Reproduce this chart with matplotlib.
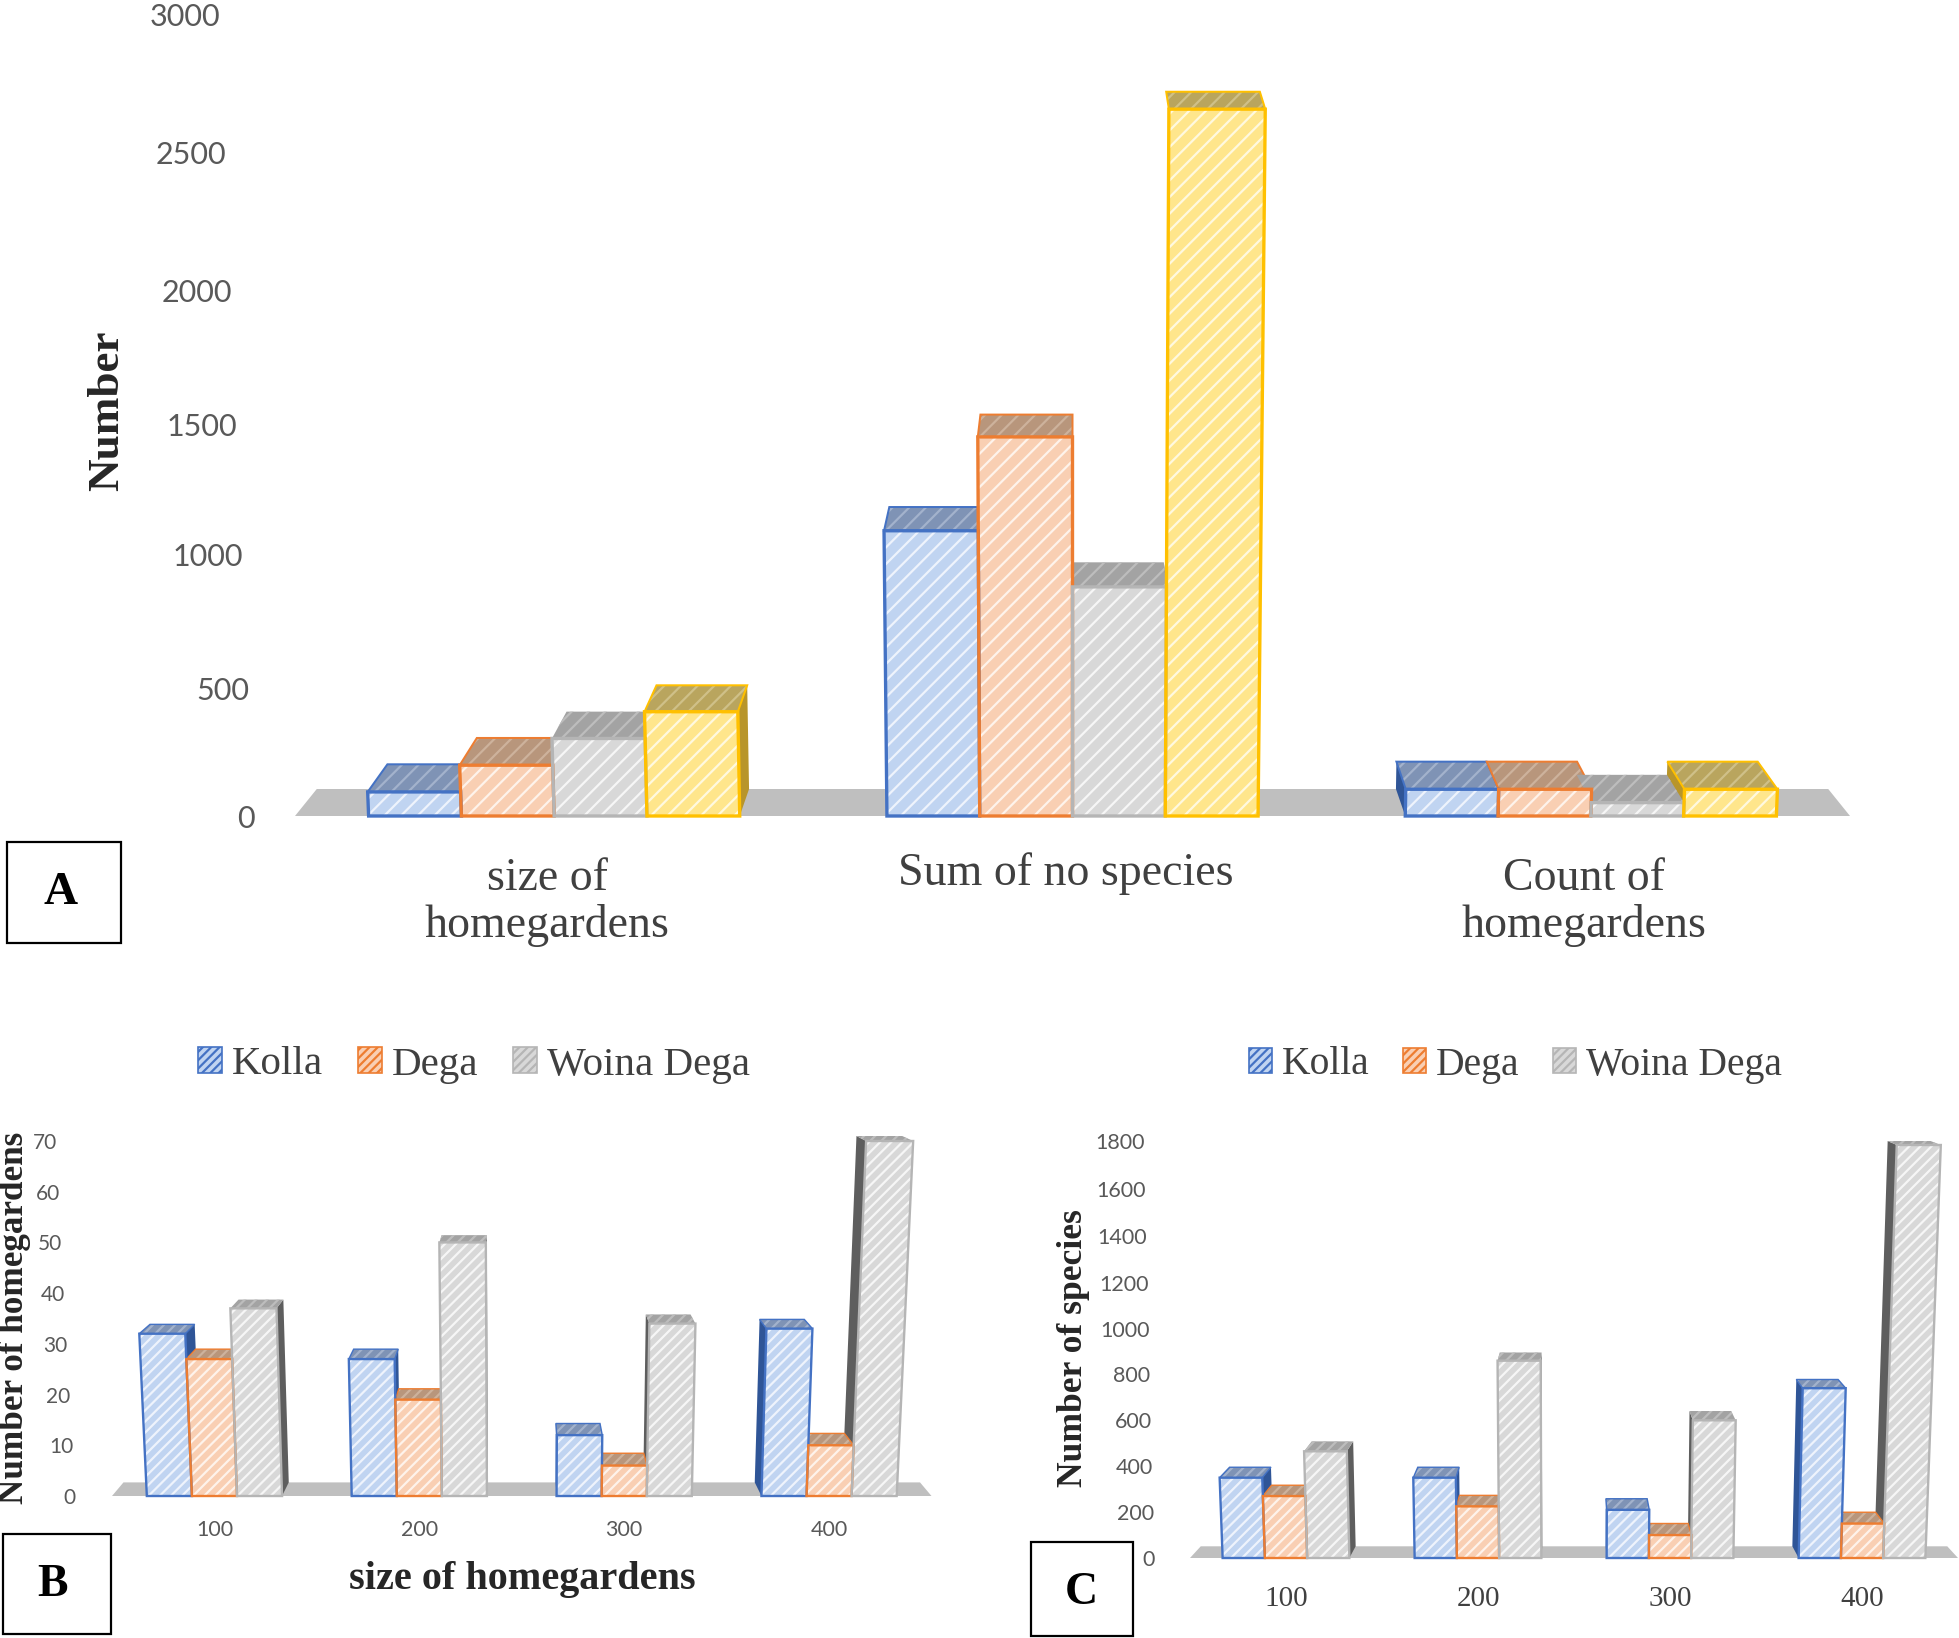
import matplotlib
matplotlib.use("Agg")
import matplotlib.pyplot as plt
from matplotlib.patches import Polygon, Patch, Rectangle
from matplotlib.transforms import ScaledTranslation

W, H = 1959, 1638
SERIF = "Liberation Serif"
NUM = "Lato"
TICK = "#595959"
TEXT = "#404040"

# ---------- data ----------
a_categories = ["size of\nhomegardens", "Sum of no species", "Count of\nhomegardens"]
a_kolla = [90, 1067, 100]
a_dega = [190, 1418, 100]
a_woina = [290, 857, 50]
a_total = [390, 2644, 100]
a_ticks = [0, 500, 1000, 1500, 2000, 2500, 3000]

b_categories = ["100", "200", "300", "400"]
b_kolla = [32, 27, 12, 33]
b_dega = [27, 19, 6, 10]
b_woina = [37, 50, 34, 70]
b_ticks = [0, 10, 20, 30, 40, 50, 60, 70]

c_categories = ["100", "200", "300", "400"]
c_kolla = [350, 350, 210, 740]
c_dega = [270, 225, 100, 150]
c_woina = [465, 860, 600, 1800]
c_ticks = [0, 200, 400, 600, 800, 1000, 1200, 1400, 1600, 1800]

# ---------- styles: front, stripe, outline, top, top stripe, side ----------
STY = {
    "blue":   ("#C0D4F1", "#EEF3FC", "#4472C4", "#7F93B5", "#A3B2CC", "#2F5597"),
    "orange": ("#F9CFB3", "#FEF3EB", "#ED7D31", "#B8967C", "#CDB29C", "#A86A3C"),
    "gray":   ("#D8D8D8", "#F6F6F6", "#B5B5B5", "#A3A3A3", "#BDBDBD", "#5E5E5E"),
    "yellow": ("#FFE68C", "#FFF9DF", "#FFC000", "#B9A55E", "#CFC088", "#B8952A"),
}
plt.rcParams["hatch.linewidth"] = 1.6

fig = plt.figure(figsize=(W / 100, H / 100), dpi=100, facecolor="white")


def make_axes(left, right, top, bottom, ymax):
    ax = fig.add_axes([left / W, 1 - bottom / H, (right - left) / W, (bottom - top) / H])
    ax.set_ylim(0, ymax)
    ax.patch.set_alpha(0)
    for s in ax.spines.values():
        s.set_visible(False)
    ax.tick_params(length=0)
    return ax


def panel(ax, groups, names, width, hatch, dy_low, dy_high, floor_dy, lw, k=0.028):
    n_cat = len(groups[0])
    ax.set_xlim(-0.5, n_cat - 0.5)
    ymax = ax.get_ylim()[1]
    bbox = ax.get_position()
    px_per_val = bbox.height * H / ymax
    xc = (n_cat - 1) / 2
    back = lambda x: x + k * (xc - x)
    lean = lambda x, v: x + 0.044 * (v / ymax) * (x - xc)

    fdy = floor_dy / px_per_val
    ax.add_patch(Polygon([(-0.5, 0), (n_cat - 0.5, 0), (back(n_cat - 0.5), fdy), (back(-0.5), fdy)],
                         fc="#BFBFBF", ec="none", zorder=1, clip_on=False))
    m = len(groups)
    for si, (vals, nm) in enumerate(zip(groups, names)):
        fc, st, oc, tc, ts, sc = STY[nm]
        for ci, v in enumerate(vals):
            x0 = ci + (si - m / 2) * width
            x1 = x0 + width
            dy = (dy_low + (dy_high - dy_low) * v / ymax) / px_per_val
            tl, tr = lean(x0, v), lean(x1, v)
            btl, btr = back(tl), back(tr)
            if ci <= xc:
                side = [(x1, 0), (tr, v), (btr, v + dy), (back(x1), fdy)]
            else:
                side = [(x0, 0), (tl, v), (btl, v + dy), (back(x0), fdy)]
            ax.add_patch(Polygon(side, fc=sc, ec="none", zorder=2, clip_on=False))
            top_face = [(tl, v), (tr, v), (btr, v + dy), (btl, v + dy)]
            ax.add_patch(Polygon(top_face, fc=tc, ec=ts, lw=0, hatch=hatch, zorder=3, clip_on=False))
            if nm != "gray":
                ax.add_patch(Polygon(top_face, fc="none", ec=oc, lw=lw * 0.6, zorder=3, clip_on=False))
            ax.add_patch(Polygon([(x0, 0), (x1, 0), (tr, v), (tl, v)], fc=fc, ec=st, lw=0,
                                 hatch=hatch, zorder=4, clip_on=False))
            ax.add_patch(Polygon([(x0, 0), (x1, 0), (tr, v), (tl, v)], fc="none", ec=oc,
                                 lw=lw, zorder=5, clip_on=False))


def y_labels(ax, ticks, font, size, pad0_px, pad1_px):
    ax.set_yticks(ticks)
    ax.set_yticklabels([str(t) for t in ticks], fontfamily=font, fontsize=size, color=TICK)
    top = ticks[-1]
    for t, tk in zip(ticks, ax.yaxis.get_major_ticks()):
        tk.set_pad((pad0_px + (pad1_px - pad0_px) * t / top) * 0.72)


def nudge(labels, offsets_px):
    for lab, (dx, dy) in zip(labels, offsets_px):
        lab.set_transform(lab.get_transform() + ScaledTranslation(dx / 100, dy / 100, fig.dpi_scale_trans))


def legend(center_x, y, names, fontsize):
    handles = [Patch(fc=STY[c][0], ec=STY[c][2], hatch="////", lw=1.2) for c in ("blue", "orange", "gray")]
    fig.legend(handles, names, loc="center", bbox_to_anchor=(center_x / W, 1 - y / H), ncol=3,
               frameon=False, prop={"family": SERIF, "size": fontsize}, labelcolor=TEXT,
               handlelength=0.58, handleheight=0.58, handletextpad=0.25, columnspacing=0.85)


def letter_box(x0, y0, x1, y1, s, size, tx, ty):
    fig.add_artist(Rectangle((x0 / W, 1 - y1 / H), (x1 - x0) / W, (y1 - y0) / H, fc="white", ec="black",
                             lw=1.6, transform=fig.transFigure))
    fig.text(tx / W, 1 - ty / H, s, ha="center", va="center",
             fontfamily=SERIF, fontweight="bold", fontsize=size, color="black")


# ---------- panel A ----------
axA = make_axes(295, 1850, 14, 816, 3000)
panel(axA, [a_kolla, a_dega, a_woina, a_total], ["blue", "orange", "gray", "yellow"], 0.179, "//",
      28, 16, 27, 2.4)
y_labels(axA, a_ticks, NUM, 22, 40, 75)
nudge(axA.get_yticklabels(), [(0, 0), (0, -6), (0, -6), (0, -10), (0, -9), (0, -5), (0, 0)])
axA.set_xticks(range(3))
axA.set_xticklabels(a_categories, fontfamily=SERIF, fontsize=33, color=TEXT, linespacing=1.12)
axA.tick_params(axis="x", pad=26)
nudge(axA.get_xticklabels(), [(-7, -5), (-7, 0), (-7, -5)])
fig.text(107 / W, 1 - 411 / H, "Number", rotation=90, ha="center", va="center",
         fontfamily=SERIF, fontweight="bold", fontsize=32.5, color="#262626")

# ---------- panel B ----------
axB = make_axes(112, 931.5, 1141, 1496, 70)
panel(axB, [b_kolla, b_dega, b_woina], ["blue", "orange", "gray"], 0.22, "///", 13, 5, 13.6, 1.7)
y_labels(axB, b_ticks, NUM, 15, 36, 55)
axB.set_xticks(range(4))
axB.set_xticklabels(b_categories, fontfamily=NUM, fontsize=15.5, color=TICK)
axB.tick_params(axis="x", pad=17.5)
fig.text(522 / W, 1 - 1580 / H, "size of homegardens", ha="center", va="center",
         fontfamily=SERIF, fontweight="bold", fontsize=29, color="#262626")
fig.text(15 / W, 1 - 1318 / H, "Number of homegardens", rotation=90, ha="center", va="center",
         fontfamily=SERIF, fontweight="bold", fontsize=25.3, color="#262626")
legend(474, 1065, ["Kolla", "Dega", "Woina Dega"], 29.5)

# ---------- panel C ----------
axC = make_axes(1190, 1958, 1145, 1558, 1800)
panel(axC, [c_kolla, c_dega, c_woina], ["blue", "orange", "gray"], 0.22, "///", 12, 4, 11.7, 1.7)
y_labels(axC, c_ticks, NUM, 15.5, 35, 45)
nudge(axC.get_yticklabels(), [(0, 0)] * 7 + [(0, 1), (0, 2), (0, 4)])
axC.set_xticks(range(4))
axC.set_xticklabels(c_categories, fontfamily=SERIF, fontsize=21, color=TEXT)
axC.tick_params(axis="x", pad=20.5)
fig.text(1073 / W, 1 - 1348 / H, "Number of species", rotation=90, ha="center", va="center",
         fontfamily=SERIF, fontweight="bold", fontsize=25.6, color="#262626")
legend(1515, 1065, ["Kolla", "Dega", "Woina Dega"], 28.5)

# ---------- letter boxes ----------
letter_box(7, 842, 121, 943, "A", 34, 61, 893)
letter_box(3, 1534, 111, 1634, "B", 33, 53, 1585)
letter_box(1031, 1542, 1133, 1636, "C", 33, 1081, 1593)

fig.savefig("out.png", dpi=100, facecolor="white")
